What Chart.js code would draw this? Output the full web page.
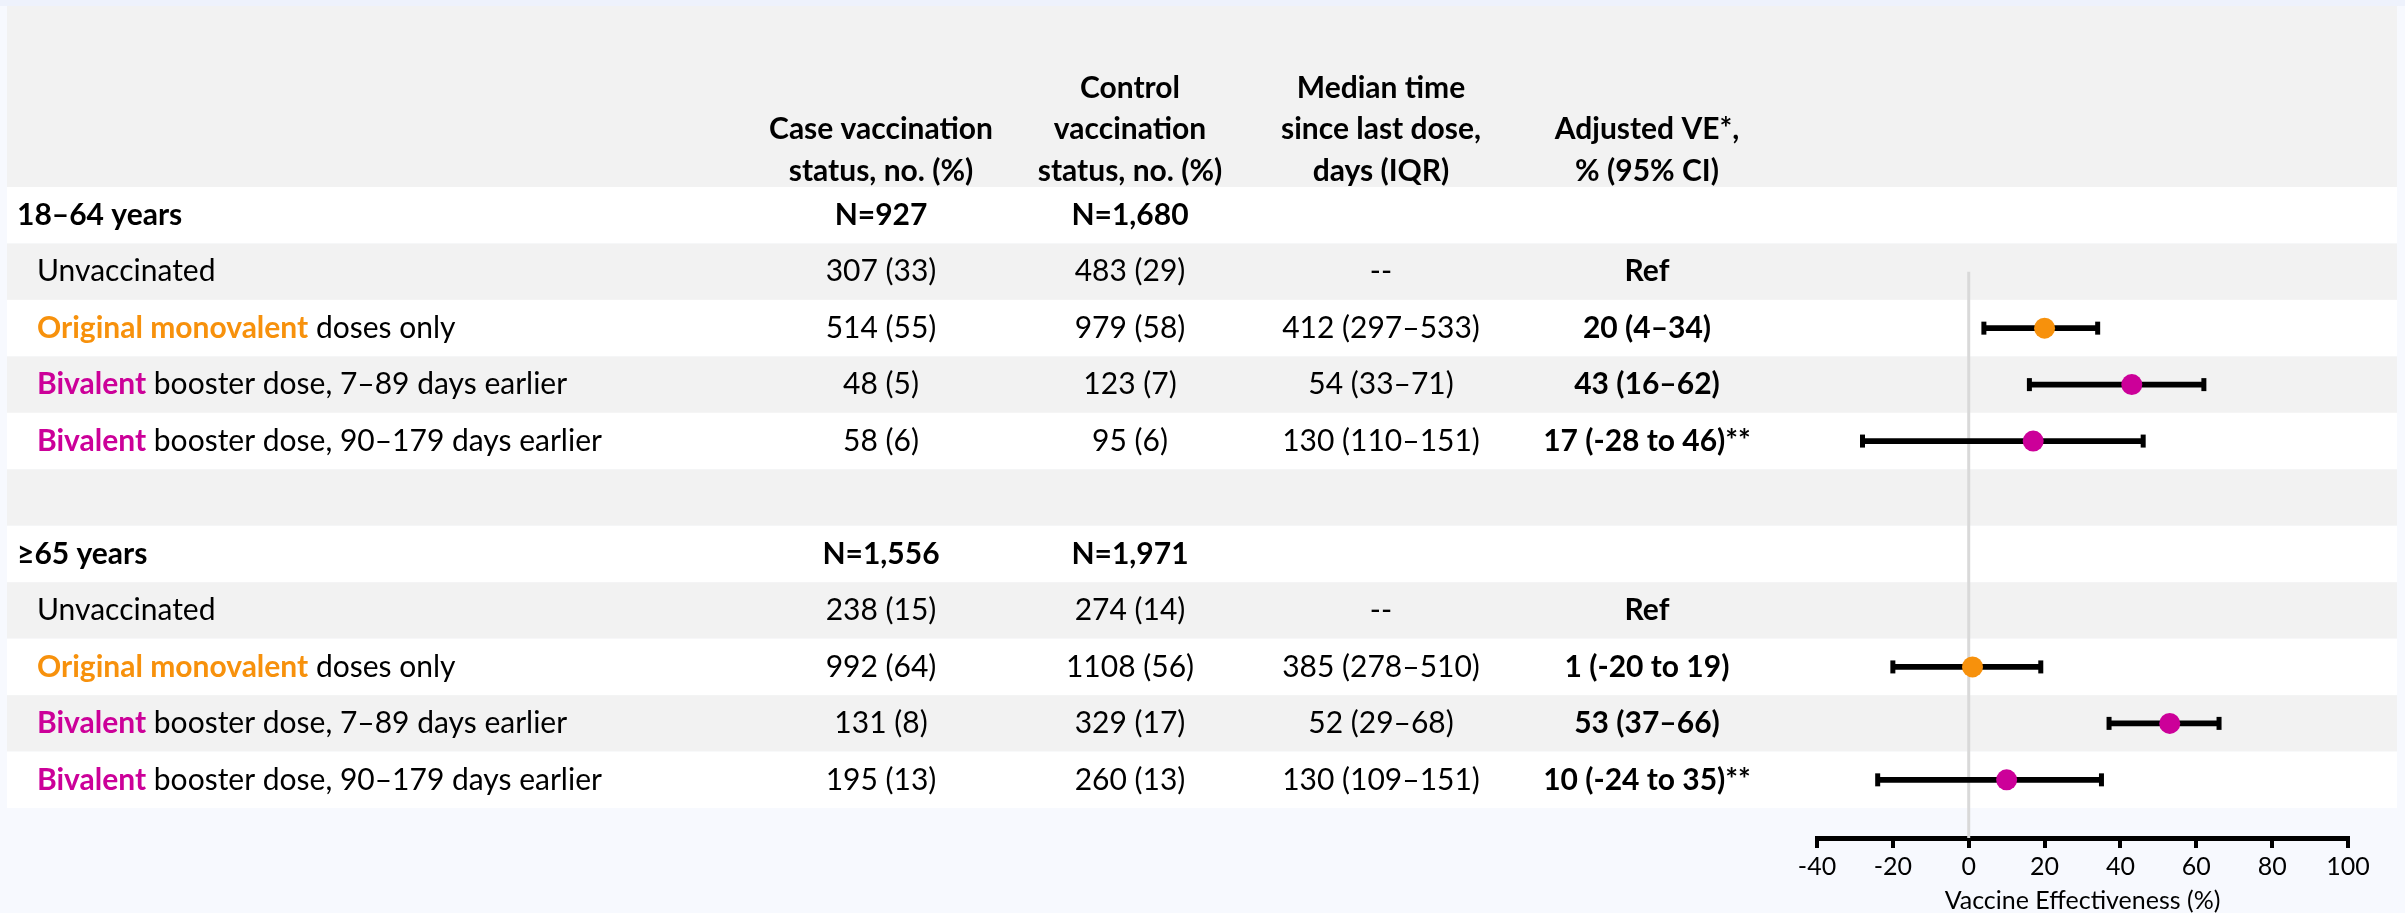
<!DOCTYPE html>
<html>
<head>
<meta charset="utf-8">
<script src="https://cdn.jsdelivr.net/npm/chart.js@4"></script>
<style>
  html, body { margin: 0; padding: 0; background: #f7f9fe; }
  canvas { display: block; }
</style>
</head>
<body>
<canvas id="veChart" width="2405" height="913"></canvas>
<script>
// table rows (top to bottom), blank strings where a cell is empty
const rowHighlight = ["", "", "Original monovalent", "Bivalent", "Bivalent", "", "", "", "Original monovalent", "Bivalent", "Bivalent"];
const rowText = ["18–64 years", "Unvaccinated", " doses only", " booster dose, 7–89 days earlier", " booster dose, 90–179 days earlier",
  "", "≥65 years", "Unvaccinated", " doses only", " booster dose, 7–89 days earlier", " booster dose, 90–179 days earlier"];
const groupRows = [0, 6];
const caseCounts = ["N=927", "307 (33)", "514 (55)", "48 (5)", "58 (6)", "", "N=1,556", "238 (15)", "992 (64)", "131 (8)", "195 (13)"];
const controlCounts = ["N=1,680", "483 (29)", "979 (58)", "123 (7)", "95 (6)", "", "N=1,971", "274 (14)", "1108 (56)", "329 (17)", "260 (13)"];
const medianDays = ["", "--", "412 (297–533)", "54 (33–71)", "130 (110–151)", "", "", "--", "385 (278–510)", "52 (29–68)", "130 (109–151)"];
const veLabels = ["", "Ref", "20 (4–34)", "43 (16–62)", "17 (-28 to 46)**", "", "", "Ref", "1 (-20 to 19)", "53 (37–66)", "10 (-24 to 35)**"];

const headers = [
  ["Case vaccination", "status, no. (%)"],
  ["Control", "vaccination", "status, no. (%)"],
  ["Median time", "since last dose,", "days (IQR)"],
  ["Adjusted VE*,", "% (95% CI)"]
];

// forest plot values
const veRows = [2, 3, 4, 8, 9, 10];
const ve = [20, 43, 17, 1, 53, 10];
const veLow = [4, 16, -28, -20, 37, -24];
const veHigh = [34, 62, 46, 19, 66, 35];
const refRow = 1;
const xMin = -40, xMax = 100, xStep = 20;

const ORANGE = "#f7910c";
const MAGENTA = "#cc0099";
const veColors = veRows.map(r => rowHighlight[r] === "Bivalent" ? MAGENTA : ORANGE);

const FONT = "Lato, 'Noto Sans', sans-serif";
const SIZE = "30px ";
const colX = [881, 1130, 1381, 1647];
const yMax = 11.53;

const tablePlugin = {
  id: "table",
  beforeDraw(chart) {
    const ctx = chart.ctx;
    const y = chart.scales.y;
    const top = chart.chartArea.top;
    ctx.save();
    ctx.fillStyle = "#f7f9fe";
    ctx.fillRect(0, 0, chart.width, chart.height);
    ctx.fillStyle = "#eef2fc";
    ctx.fillRect(0, 0, chart.width, 6);
    ctx.fillStyle = "#f2f2f2";
    ctx.fillRect(7, 6, 2390, top - 6);
    rowText.forEach((t, i) => {
      const y0 = y.getPixelForValue(i), y1 = y.getPixelForValue(i + 1);
      ctx.fillStyle = i % 2 ? "#f2f2f2" : "#ffffff";
      ctx.fillRect(7, y0, 2390, y1 - y0);
    });

    ctx.textBaseline = "middle";
    ctx.fillStyle = "#000";
    ctx.font = "bold " + SIZE + FONT;
    ctx.textAlign = "center";
    headers.forEach((lines, c) => {
      lines.forEach((ln, k) => {
        ctx.fillText(ln, colX[c], top - 16 - (lines.length - 1 - k) * 41.5);
      });
    });

    rowText.forEach((t, i) => {
      const cy = y.getPixelForValue(i + 0.5);
      const isGroup = groupRows.includes(i);
      ctx.textAlign = "left";
      if (isGroup) {
        ctx.font = "bold " + SIZE + FONT;
        ctx.fillStyle = "#000";
        ctx.fillText(t, 17, cy);
      } else if (t) {
        let x = 37;
        if (rowHighlight[i]) {
          ctx.font = "bold " + SIZE + FONT;
          ctx.fillStyle = rowHighlight[i] === "Bivalent" ? MAGENTA : ORANGE;
          ctx.fillText(rowHighlight[i], x, cy);
          x += ctx.measureText(rowHighlight[i]).width;
        }
        ctx.font = SIZE + FONT;
        ctx.fillStyle = "#000";
        ctx.fillText(t, x, cy);
      }
      ctx.textAlign = "center";
      ctx.fillStyle = "#000";
      ctx.font = (isGroup ? "bold " : "") + SIZE + FONT;
      ctx.fillText(caseCounts[i], colX[0], cy);
      ctx.fillText(controlCounts[i], colX[1], cy);
      ctx.font = SIZE + FONT;
      ctx.fillText(medianDays[i], colX[2], cy);
      ctx.font = "bold " + SIZE + FONT;
      ctx.fillText(veLabels[i], colX[3], cy);
    });
    ctx.restore();
  }
};

new Chart(document.getElementById("veChart"), {
  type: "scatter",
  data: {
    datasets: [
      {
        label: "points",
        data: veRows.map((r, i) => ({ x: ve[i], y: r + 0.5 })),
        pointBackgroundColor: veColors,
        pointBorderWidth: 0,
        pointRadius: 10.5,
        pointHoverRadius: 10.5,
        order: 0
      },
      {
        label: "caps",
        data: veRows.flatMap((r, i) => [{ x: veLow[i], y: r + 0.5 }, { x: veHigh[i], y: r + 0.5 }]),
        pointStyle: "line",
        rotation: 90,
        pointRadius: 6.5,
        pointHoverRadius: 6.5,
        borderColor: "#000",
        pointBorderWidth: 5,
        order: 1
      },
      {
        type: "bar",
        label: "CI",
        indexAxis: "y",
        data: veRows.map((r, i) => ({ x: [veLow[i], veHigh[i]], y: r + 0.5 })),
        backgroundColor: "#000",
        borderWidth: 0,
        barThickness: 5,
        order: 2
      },
      {
        type: "line",
        label: "reference",
        data: [{ x: 0, y: refRow + 0.5 }, { x: 0, y: yMax }],
        borderColor: "#d9d9d9",
        borderWidth: 3,
        pointRadius: 0,
        order: 3
      }
    ]
  },
  options: {
    responsive: false,
    animation: false,
    layout: { padding: { left: 1817, right: 57, top: 187, bottom: 0 } },
    plugins: { legend: { display: false }, tooltip: { enabled: false } },
    scales: {
      x: {
        type: "linear",
        min: xMin,
        max: xMax,
        offset: false,
        ticks: { stepSize: xStep, color: "#000", font: { family: FONT, size: 25, lineHeight: 1 }, padding: 6 },
        grid: { drawOnChartArea: false, drawTicks: true, tickLength: 10, color: "#000", lineWidth: 4 },
        border: { display: true, color: "#000", width: 5 },
        title: { display: true, text: "Vaccine Effectiveness (%)", color: "#000", font: { family: FONT, size: 25, lineHeight: 1 }, padding: { top: 3, bottom: 0 } }
      },
      y: {
        type: "linear",
        display: false,
        reverse: true,
        min: 0,
        max: yMax,
        offset: false
      }
    }
  },
  plugins: [tablePlugin]
});
</script>
</body>
</html>
